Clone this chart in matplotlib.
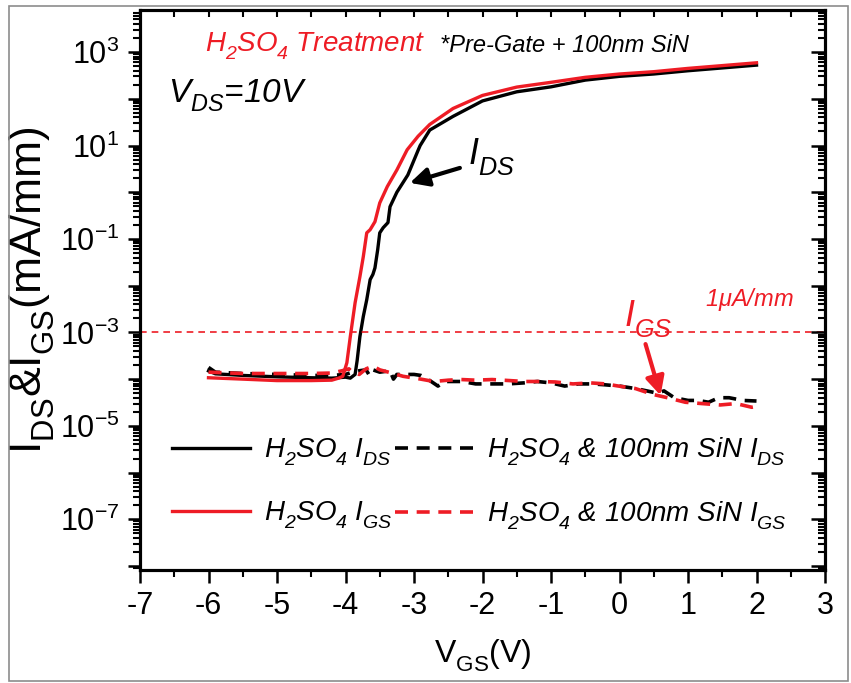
import numpy as np
import matplotlib
matplotlib.use('Agg')
import matplotlib.pyplot as plt
from matplotlib.ticker import LogLocator, FuncFormatter, NullFormatter, MultipleLocator
from matplotlib.patches import Rectangle

# lower the subscripts a bit, like the original artwork
try:
    import matplotlib._mathtext as _mt
    _mt.FontConstantsBase.sub1 = 0.55
    _mt.FontConstantsBase.subdrop = 0.55
except Exception:
    pass

plt.rcParams['font.family'] = ['Liberation Sans', 'DejaVu Sans']
plt.rcParams['mathtext.fontset'] = 'custom'
plt.rcParams['mathtext.rm'] = 'Liberation Sans:italic'
plt.rcParams['mathtext.it'] = 'Liberation Sans:italic'
plt.rcParams['mathtext.sf'] = 'Liberation Sans'
plt.rcParams['mathtext.bf'] = 'Liberation Sans:bold'

RED = '#ee1c25'

# H2SO4 I_DS (black solid)
vgs_ds = [-6.0, -5.9, -5.5, -5.0, -4.5, -4.2, -4.0, -3.93, -3.86, -3.83, -3.79, -3.74,
          -3.69, -3.64, -3.60, -3.57, -3.53, -3.50, -3.45, -3.38, -3.35, -3.25, -3.09,
          -2.94, -2.91, -2.77, -2.43, -2.0, -1.5, -1.0, -0.5, 0.0, 0.5, 1.0, 1.5, 2.0]
ids_h2so4 = [1.5e-4, 1.3e-4, 1.2e-4, 1.12e-4, 1.07e-4, 1.05e-4, 1.1e-4, 1.05e-4, 1.26e-4,
             2.5e-4, 8.1e-4, 2.2e-3, 5.0e-3, 1.35e-2, 1.74e-2, 2.4e-2, 5.9e-2, 0.135,
             0.174, 0.224, 0.49, 1.0, 2.34, 7.9, 10, 21.4, 42, 90, 141, 180, 251,
             302, 339, 398, 457, 525]

# red solid
vgs_gs = [-6.0, -5.5, -5.0, -4.5, -4.2, -4.1, -4.04, -3.98, -3.93, -3.86, -3.79, -3.74,
          -3.69, -3.64, -3.57, -3.50, -3.39, -3.25, -3.10, -2.94, -2.77, -2.43, -2.0,
          -1.5, -1.0, -0.5, 0.0, 0.5, 1.0, 1.5, 2.0]
igs_h2so4 = [1.07e-4, 1.0e-4, 9.3e-5, 9.3e-5, 9.5e-5, 1.05e-4, 1.15e-4, 2.24e-4, 8.1e-4,
             4.3e-3, 1.55e-2, 4.2e-2, 0.135, 0.158, 0.234, 0.59, 1.32, 3.0, 8.1, 15.8,
             28.2, 62, 118, 178, 225, 288, 339, 380, 447, 513, 589]

# H2SO4 & 100nm SiN I_DS (black dashed)
vgs_sin_ds = [-6.0, -5.9, -5.5, -5.0, -4.5, -4.2, -4.0, -3.9, -3.8, -3.7, -3.65, -3.6,
              -3.5, -3.35, -3.3, -3.25, -3.0, -2.9, -2.8, -2.65, -2.55, -2.3, -2.1, -1.9,
              -1.63, -1.4, -1.2, -1.0, -0.8, -0.6, -0.4, -0.23, 0.0, 0.23, 0.4, 0.55,
              0.65, 0.8, 1.0, 1.15, 1.3, 1.45, 1.6, 1.8, 2.0]
ids_sin = [1.78e-4, 1.41e-4, 1.32e-4, 1.26e-4, 1.2e-4, 1.2e-4, 1.26e-4, 1.41e-4, 1.51e-4,
           1.58e-4, 1.2e-4, 1.58e-4, 1.41e-4, 1.51e-4, 1.0e-4, 1.26e-4, 1.26e-4, 1.2e-4,
           1.0e-4, 7.1e-5, 8.9e-5, 8.9e-5, 7.9e-5, 7.9e-5, 7.9e-5, 8.3e-5, 8.9e-5, 8.3e-5,
           7.1e-5, 7.9e-5, 7.9e-5, 7.6e-5, 7.1e-5, 6.3e-5, 5.6e-5, 5.0e-5, 5.6e-5, 4.0e-5,
           3.5e-5, 3.5e-5, 3.2e-5, 4.0e-5, 4.0e-5, 3.5e-5, 3.4e-5]

# H2SO4 & 100nm SiN I_GS (red dashed)
vgs_sin_gs = [-6.0, -5.5, -5.0, -4.5, -4.2, -4.05, -3.95, -3.9, -3.8, -3.7, -3.6, -3.5,
              -3.3, -3.16, -2.9, -2.71, -2.5, -2.31, -2.1, -1.86, -1.6, -1.39, -1.2, -0.94,
              -0.68, -0.42, -0.2, -0.04, 0.23, 0.49, 0.7, 0.96, 1.2, 1.47, 1.7, 1.93, 2.0]
igs_sin = [1.41e-4, 1.32e-4, 1.32e-4, 1.32e-4, 1.35e-4, 1.51e-4, 1.66e-4, 1.41e-4, 1.26e-4,
           1.66e-4, 1.9e-4, 1.58e-4, 1.32e-4, 1.15e-4, 1.0e-4, 8.9e-5, 9.5e-5, 9.8e-5,
           9.5e-5, 9.8e-5, 9.3e-5, 8.9e-5, 8.9e-5, 8.7e-5, 7.9e-5, 8.3e-5, 7.9e-5, 7.2e-5,
           6.3e-5, 4.7e-5, 4.0e-5, 3.2e-5, 3.0e-5, 2.8e-5, 3.0e-5, 2.5e-5, 2.6e-5]

limit_1uA = 1e-3

W, H = 851, 683
fig = plt.figure(figsize=(W / 100, H / 100), dpi=100)
# axes box in pixels: left 140, right 825, top 10, bottom 570
ax = fig.add_axes([140 / W, 1 - 570 / H, 685 / W, 560 / H])

dash = (0, (3.6, 2.4))
ax.plot(vgs_sin_ds, ids_sin, color='k', lw=2.6, ls=dash, label=r'$H_2SO_4\ &\ 100nm\ SiN\ I_{DS}$')
ax.plot(vgs_ds, ids_h2so4, color='k', lw=2.4, label=r'$H_2SO_4\ I_{DS}$')
ax.plot(vgs_gs, igs_h2so4, color=RED, lw=2.4, label=r'$H_2SO_4\ I_{GS}$')
ax.plot(vgs_sin_gs, igs_sin, color=RED, lw=2.6, ls=dash, label=r'$H_2SO_4\ &\ 100nm\ SiN\ I_{GS}$')
ax.axhline(limit_1uA, color=RED, lw=1.2, ls=(0, (4, 3)))

ax.set_yscale('log')
ax.set_xlim(-7, 3)
ax.set_ylim(10 ** -8.085, 10 ** 3.9)

ax.xaxis.set_major_locator(MultipleLocator(1))
ax.xaxis.set_minor_locator(MultipleLocator(0.5))
ax.yaxis.set_major_locator(LogLocator(base=10, numticks=30))
ax.yaxis.set_minor_locator(LogLocator(base=10, subs=np.arange(2, 10), numticks=30))
ax.yaxis.set_minor_formatter(NullFormatter())


def ylab(v, pos):
    e = int(round(np.log10(v)))
    return r'$\mathsf{10^{%d}}$' % e if e % 2 else ''


ax.yaxis.set_major_formatter(FuncFormatter(ylab))
ax.xaxis.set_major_formatter(FuncFormatter(lambda v, p: '%d' % v))
ax.tick_params(axis='both', which='major', direction='out', length=9, width=1.8,
               labelsize=22, pad=6)
ax.tick_params(axis='both', which='minor', direction='out', length=5, width=1.5)
for s in ax.spines.values():
    s.set_linewidth(2.2)

# mirrored axes with inward ticks (right and top)
axr = ax.twinx()
axr.set_yscale('log')
axr.set_ylim(ax.get_ylim())
axr.yaxis.set_major_locator(LogLocator(base=10, numticks=30))
axr.yaxis.set_minor_locator(LogLocator(base=10, subs=np.arange(2, 10), numticks=30))
axr.yaxis.set_major_formatter(NullFormatter())
axr.yaxis.set_minor_formatter(NullFormatter())
axr.tick_params(axis='y', which='major', direction='in', length=10, width=1.8)
axr.tick_params(axis='y', which='minor', direction='in', length=5, width=1.5)
axt = ax.twiny()
axt.set_xlim(ax.get_xlim())
axt.xaxis.set_major_locator(MultipleLocator(0.5))
axt.xaxis.set_major_formatter(NullFormatter())
axt.tick_params(axis='x', which='major', direction='in', length=5, width=1.5)
for a in (axr, axt):
    for s in a.spines.values():
        s.set_linewidth(2.2)

ax.set_xlabel(r'$\mathsf{V_{GS}(V)}$', fontsize=23, labelpad=12)
ax.set_ylabel(r'$\mathsf{I_{DS}&I_{GS}(mA/mm)}$', fontsize=32, labelpad=2)


def ap(px, py):
    return ((px - 140) / 685, (570 - py) / 560)


ax.text(*ap(205, 52), r'$H_2SO_4\ Treatment$', transform=ax.transAxes, color=RED,
        fontsize=20, va='baseline')
ax.text(*ap(440, 52), '*Pre-Gate + 100nm SiN', transform=ax.transAxes, color='k',
        fontsize=17, style='italic', va='baseline')
ax.text(*ap(168, 102), r'$V_{DS}$=10V', transform=ax.transAxes, fontsize=24,
        style='italic', va='baseline')
ax.text(*ap(468, 164), r'$I_{DS}$', transform=ax.transAxes, fontsize=26, va='baseline')
ax.text(*ap(624, 326), r'$I_{GS}$', transform=ax.transAxes, fontsize=26, va='baseline',
        color=RED)
ax.text(*ap(705, 306), r'$1\mu A/mm$', transform=ax.transAxes, fontsize=17,
        va='baseline', color=RED)

ax.annotate('', xy=(-3.06, 10 ** 0.2), xytext=(-2.33, 10 ** 0.52),
            arrowprops=dict(arrowstyle='-|>', lw=3, color='k', mutation_scale=28,
                            shrinkA=0, shrinkB=0))
ax.annotate('', xy=(0.6, 10 ** -4.35), xytext=(0.38, 10 ** -3.25),
            arrowprops=dict(arrowstyle='-|>', lw=3, color=RED, mutation_scale=28,
                            shrinkA=0, shrinkB=0))

h = {l.get_label(): l for l in ax.get_lines()}
order = [r'$H_2SO_4\ I_{DS}$', r'$H_2SO_4\ I_{GS}$',
         r'$H_2SO_4\ &\ 100nm\ SiN\ I_{DS}$', r'$H_2SO_4\ &\ 100nm\ SiN\ I_{GS}$']
ax.legend([h[k] for k in order], order, ncol=2, loc='upper left',
          bbox_to_anchor=ap(172, 436), frameon=False, fontsize=20, borderpad=0,
          borderaxespad=0, handlelength=2.8, handletextpad=0.5, columnspacing=0.1,
          labelspacing=1.15)

fig.patches.append(Rectangle((9 / W, 2 / H), 839 / W, 675 / H, transform=fig.transFigure,
                             fill=False, ec='#8c8c8c', lw=1.2))

fig.savefig('out.png', dpi=100)
